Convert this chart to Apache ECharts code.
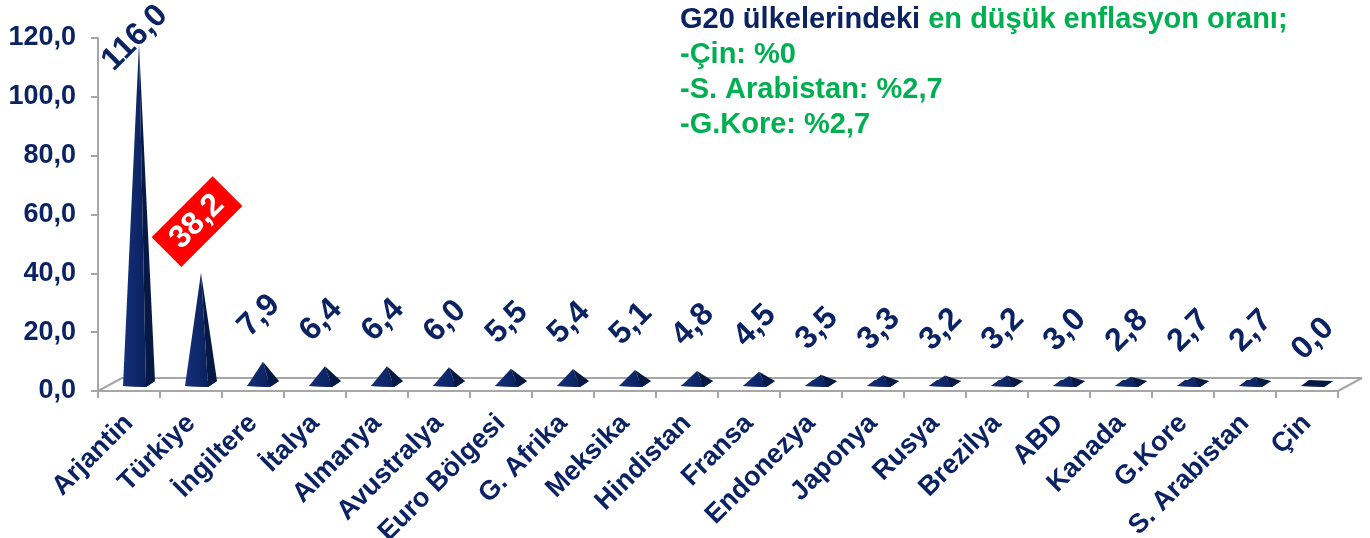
<!DOCTYPE html>
<html>
<head>
<meta charset="utf-8">
<script src="https://cdn.jsdelivr.net/npm/echarts@6/dist/echarts.min.js"></script>
<style>
html, body { margin: 0; padding: 0; background: #fff; }
#chart { width: 1370px; height: 538px; }
</style>
</head>
<body>
<div id="chart"></div>
<script>
var countries = ['Arjantin', 'Türkiye', 'İngiltere', 'İtalya', 'Almanya', 'Avustralya', 'Euro Bölgesi', 'G. Afrika', 'Meksika', 'Hindistan', 'Fransa', 'Endonezya', 'Japonya', 'Rusya', 'Brezilya', 'ABD', 'Kanada', 'G.Kore', 'S. Arabistan', 'Çin'];
var inflation = [116.0, 38.2, 7.9, 6.4, 6.4, 6.0, 5.5, 5.4, 5.1, 4.8, 4.5, 3.5, 3.3, 3.2, 3.2, 3.0, 2.8, 2.7, 2.7, 0.0];
var yTicks = [0, 20, 40, 60, 80, 100, 120];
var highlightCountry = 'Türkiye';
var noteTitle = ['G20 ülkelerindeki ', 'en düşük enflasyon oranı;'];
var noteLines = ['-Çin: %0', '-S. Arabistan: %2,7', '-G.Kore: %2,7'];

var NAVY = '#0c2363';
var GREEN = '#00b050';
var GRAY = '#a6a6a6';
var FONT = '"Liberation Sans", Arial, sans-serif';

function fmt(v) {
	return v.toFixed(1).replace('.', ',');
}

var chart = echarts.init(document.getElementById('chart'));

/* pyramid + floor for each category */
function renderPyramid(params, api) {
	var i = params.dataIndex;
	var v = api.value(1);
	var base = api.coord([i, 0]);
	var top = api.coord([i, v]);
	var bw = api.size([1, 0])[0];
	var cx = base[0], y0 = base[1];
	var depthX = 24, depthY = 13;
	var children = [];

	// floor back edge
	children.push({
		type: 'line',
		shape: { x1: cx - bw / 2 + depthX, y1: y0 - depthY, x2: cx + bw / 2 + depthX, y2: y0 - depthY },
		style: { stroke: GRAY, lineWidth: 2 }
	});
	if (i === 0) {
		children.push({
			type: 'line',
			shape: { x1: cx - bw / 2, y1: y0, x2: cx - bw / 2 + depthX, y2: y0 - depthY },
			style: { stroke: GRAY, lineWidth: 2 }
		});
	}
	if (i === params.dataInsideLength - 1) {
		children.push({
			type: 'line',
			shape: { x1: cx + bw / 2, y1: y0, x2: cx + bw / 2 + depthX, y2: y0 - depthY },
			style: { stroke: GRAY, lineWidth: 2 }
		});
	}

	var ax = cx + 10, ay = top[1] - 6;
	var fl = [cx - 6, y0 - 5], fr = [cx + 17, y0 - 4], br = [cx + 26, y0 - 10], bl = [cx + 2, y0 - 11];

	children.push({
		type: 'polygon',
		shape: { points: [fl, fr, br, bl] },
		style: { fill: '#051640' }
	});
	children.push({
		type: 'polygon',
		shape: { points: [[ax, ay], fl, fr] },
		style: {
			fill: new echarts.graphic.LinearGradient(0, 0, 1, 0, [
				{ offset: 0, color: '#14307a' },
				{ offset: 1, color: '#0a215e' }
			])
		}
	});
	children.push({
		type: 'polygon',
		shape: { points: [[ax, ay], fr, br] },
		style: { fill: '#061944' }
	});

	var isHi = countries[i] === highlightCountry;
	var ly = Math.max(ay - (isHi ? 51 : 46), 38);
	children.push({
		type: 'text',
		x: ax - 4,
		y: ly,
		rotation: Math.PI / 4,
		style: {
			text: fmt(v),
			fill: isHi ? '#ffffff' : NAVY,
			font: 'bold 32px ' + FONT,
			align: 'center',
			verticalAlign: 'middle',
			backgroundColor: isHi ? '#ff0000' : null,
			padding: isHi ? [6, 12, 4, 12] : 0
		}
	});

	return { type: 'group', children: children };
}

var option = {
	animation: false,
	grid: {
		left: 98,
		right: 32,
		top: 38,
		bottom: 147,
		containLabel: false,
		outerBoundsMode: 'none'
	},
	xAxis: {
		type: 'category',
		data: countries,
		axisLine: { lineStyle: { color: GRAY, width: 2 } },
		axisTick: { show: true, length: 7, lineStyle: { color: GRAY, width: 2 } },
		axisLabel: {
			interval: 0,
			rotate: 45,
			margin: 28,
			color: NAVY,
			fontWeight: 'bold',
			fontSize: 27,
			fontFamily: FONT
		}
	},
	yAxis: {
		type: 'value',
		min: yTicks[0],
		max: yTicks[yTicks.length - 1],
		interval: yTicks[1] - yTicks[0],
		splitLine: { show: false },
		axisLine: { show: true, lineStyle: { color: GRAY, width: 2 } },
		axisTick: { show: true, length: 7, lineStyle: { color: GRAY, width: 2 } },
		axisLabel: {
			margin: 22,
			color: NAVY,
			fontWeight: 'bold',
			fontSize: 27,
			fontFamily: FONT,
			formatter: function (v) { return fmt(v); }
		}
	},
	graphic: [{
		type: 'text',
		left: 680,
		top: 5,
		style: {
			text: '{n|' + noteTitle[0] + '}{g|' + noteTitle[1] + '}\n' +
				noteLines.map(function (s) { return '{g|' + s + '}'; }).join('\n'),
			rich: {
				n: { fill: NAVY, font: 'bold 29px ' + FONT, lineHeight: 35 },
				g: { fill: GREEN, font: 'bold 29px ' + FONT, lineHeight: 35 }
			}
		}
	}],
	series: [{
		type: 'custom',
		renderItem: renderPyramid,
		clip: false,
		data: inflation.map(function (v, i) { return [i, v]; })
	}]
};

chart.setOption(option);
</script>
</body>
</html>
